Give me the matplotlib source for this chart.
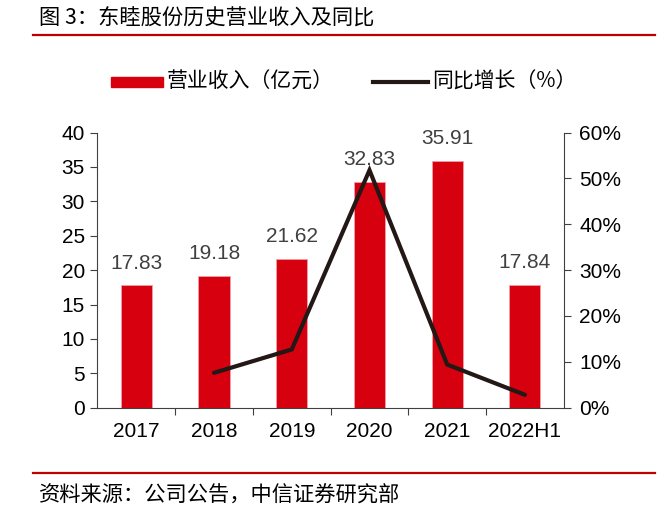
import matplotlib
matplotlib.use("Agg")
import matplotlib.pyplot as plt
from matplotlib.ticker import PercentFormatter

plt.rcParams['font.family'] = ['Liberation Sans', 'Noto Sans CJK SC', 'DejaVu Sans']

# data
years = ["2017", "2018", "2019", "2020", "2021", "2022H1"]
revenue = [17.83, 19.18, 21.62, 32.83, 35.91, 17.84]   # 亿元
yoy_years = ["2018", "2019", "2020", "2021", "2022H1"]
yoy = [7.6, 12.7, 51.8, 9.4, 2.8]                      # %

red = "#d7000f"
dark = "#231815"
cjk = ['Noto Sans CJK SC', 'DejaVu Sans']
num_size = 15

fig = plt.figure(figsize=(6.72, 5.18), dpi=100)
ax = fig.add_axes([0.145, 0.213, 0.694, 0.531])
ax2 = ax.twinx()

x = list(range(len(years)))
bars = ax.bar(x, revenue, width=0.4, color=red, edgecolor="#f0a0a8", linewidth=0.6)
for xi, v in zip(x, revenue):
    ax.annotate(f"{v:.2f}", (xi, v), xytext=(0, 9), textcoords="offset points",
                ha="center", va="bottom", fontsize=num_size, color="#404040")

yx = [years.index(y) for y in yoy_years]
ax2.plot(yx, yoy, color=dark, linewidth=3, solid_capstyle="round", solid_joinstyle="miter")

ax.set_xlim(-0.5, len(years) - 0.5)
ax.set_ylim(0, 40)
ax.set_yticks(range(0, 41, 5))
ax2.set_ylim(0, 60)
ax2.set_yticks(range(0, 61, 10))
ax2.yaxis.set_major_formatter(PercentFormatter(decimals=0))

# x ticks at category boundaries, labels centred
ax.set_xticks([i + 0.5 for i in x[:-1]])
ax.set_xticklabels([])
ax.set_xticks(x, minor=True)
ax.set_xticklabels(years, minor=True)
ax.tick_params(axis="x", which="minor", length=0, pad=10, labelsize=num_size)
ax.tick_params(axis="x", which="major", length=5, direction="out", color="#404040")
ax.tick_params(axis="y", length=5, labelsize=num_size, color="#404040", pad=4)
ax2.tick_params(axis="y", length=5, labelsize=num_size, color="#404040", pad=6)

for a in (ax, ax2):
    a.spines["top"].set_visible(False)
    for s in ("left", "right", "bottom"):
        a.spines[s].set_color("#404040")
ax.spines["right"].set_visible(False)
ax2.spines["left"].set_visible(False)
ax2.spines["bottom"].set_visible(False)

# legend drawn by hand in figure coords
fig.patches.append(plt.Rectangle((111 / 672, 1 - 87 / 518), 52 / 672, 10 / 518,
                                 transform=fig.transFigure, color=red))
fig.text(167 / 672, 1 - 82 / 518, "营业收入（亿元）", family=cjk, fontsize=15, va="center")
fig.lines.append(plt.Line2D([373 / 672, 428 / 672], [1 - 82 / 518] * 2,
                            transform=fig.transFigure, color=dark, linewidth=3))
fig.text(432 / 672, 1 - 82 / 518, "同比增长（%）", family=cjk, fontsize=15, va="center")

# title, rules and source
fig.text(39 / 672, 1 - 19 / 518, "图 3：东睦股份历史营业收入及同比", family=cjk,
         fontsize=15.3, va="center", weight="medium")
for yy in (35, 473):
    fig.lines.append(plt.Line2D([33 / 672, 655 / 672], [1 - yy / 518] * 2,
                                transform=fig.transFigure, color="#c00000", linewidth=1.6))
fig.text(39 / 672, 1 - 496 / 518, "资料来源：公司公告，中信证券研究部", family=cjk,
         fontsize=15.3, va="center", weight="medium")

fig.savefig("out.png", dpi=100)
